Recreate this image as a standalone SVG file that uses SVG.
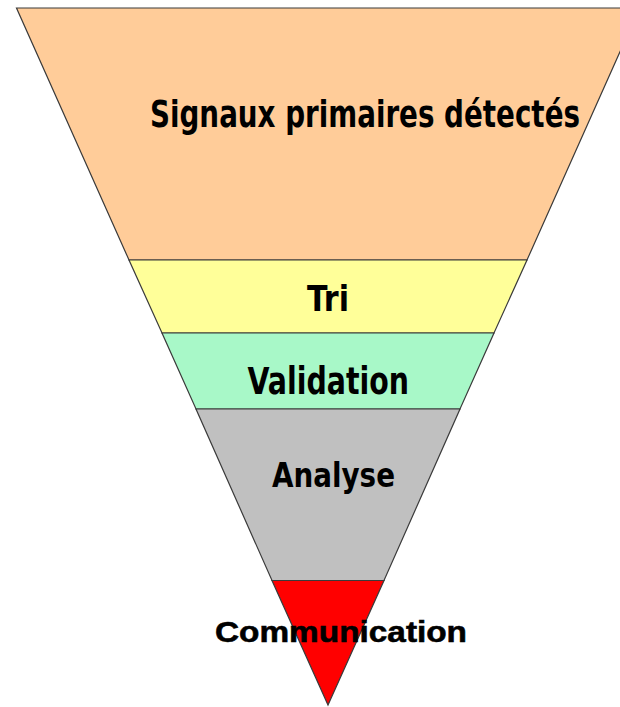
<svg xmlns="http://www.w3.org/2000/svg" width="620" height="707" viewBox="0 0 620 707">
<style>
.band{stroke:#3a3a3a;stroke-width:1.2;stroke-linejoin:miter}
.lbl{font-family:"DejaVu Sans Condensed","DejaVu Sans","Liberation Sans",sans-serif;font-weight:bold;fill:#000}
.com{font-family:"Liberation Sans",Arial,sans-serif;font-weight:bold;fill:#000;stroke:#000;stroke-width:0.6}
</style>
<rect width="620" height="707" fill="#ffffff"/>
<g id="signaux">
<polygon class="band" points="16.5,8 639.5,8 527,260 129,260" fill="#FFCC99"/>
<text class="lbl" x="150" y="126.5" font-size="38" textLength="430" lengthAdjust="spacingAndGlyphs">Signaux primaires détectés</text>
</g>
<g id="tri">
<polygon class="band" points="129,260 527,260 494,333 162,333" fill="#FFFF99"/>
<text class="lbl" x="307" y="311" font-size="35" textLength="42" lengthAdjust="spacingAndGlyphs">Tri</text>
</g>
<g id="validation">
<polygon class="band" points="162,333 494,333 460,409 196,409" fill="#A8F8C8"/>
<text class="lbl" x="247.5" y="393.5" font-size="37" textLength="161.5" lengthAdjust="spacingAndGlyphs">Validation</text>
</g>
<g id="analyse">
<polygon class="band" points="196,409 460,409 384,580.5 272,580.5" fill="#C0C0C0"/>
<text class="lbl" x="272" y="486.5" font-size="33" textLength="123" lengthAdjust="spacingAndGlyphs">Analyse</text>
</g>
<g id="communication">
<polygon class="band" points="272,580.5 384,580.5 328,705" fill="#FF0000"/>
<text class="com" x="215" y="642" font-size="30" textLength="252" lengthAdjust="spacingAndGlyphs">Communication</text>
</g>
<g id="connectors"></g>
</svg>
